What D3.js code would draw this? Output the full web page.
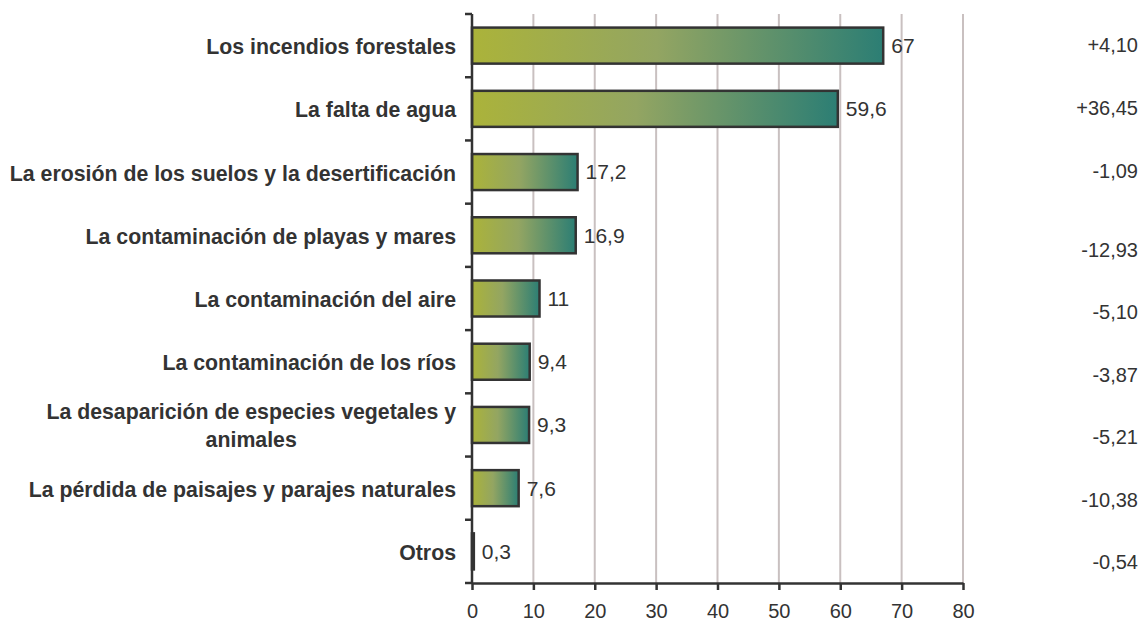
<!DOCTYPE html>
<html>
<head>
<meta charset="utf-8">
<script src="https://cdn.jsdelivr.net/npm/d3@7"></script>
<style>
  body { margin: 0; background: #fff; }
  svg { display: block; font-family: Arial, "Liberation Sans", sans-serif; }
</style>
</head>
<body>
<svg id="Chart" width="1142" height="623"></svg>
<script>
// categories (top to bottom), "\n" marks a wrapped label
var categories = [
  "Los incendios forestales",
  "La falta de agua",
  "La erosión de los suelos y la desertificación",
  "La contaminación de playas y mares",
  "La contaminación del aire",
  "La contaminación de los ríos",
  "La desaparición de especies vegetales y\nanimales",
  "La pérdida de paisajes y parajes naturales",
  "Otros"
];
var values = [67, 59.6, 17.2, 16.9, 11, 9.4, 9.3, 7.6, 0.3];
var valueLabels = ["67", "59,6", "17,2", "16,9", "11", "9,4", "9,3", "7,6", "0,3"];
var changeLabels = ["+4,10", "+36,45", "-1,09", "-12,93", "-5,10", "-3,87", "-5,21", "-10,38", "-0,54"];
var xTicks = [0, 10, 20, 30, 40, 50, 60, 70, 80];

var margin = { top: 14, left: 472, right: 179, bottom: 40 };
var svg, width, height, innerW, innerH;

document.addEventListener("DOMContentLoaded", () => {
  svg = d3.select("#Chart");
  width = +svg.attr("width");
  height = +svg.attr("height");
  innerW = width - margin.left - margin.right;
  innerH = height - margin.top - margin.bottom;
  drawChart();
});

function drawChart() {
  svg.selectAll("*").remove();

  var x = d3.scaleLinear().domain([0, 80]).range([margin.left, margin.left + innerW]);
  var y = d3.scaleBand()
    .domain(categories)
    .range([margin.top, margin.top + innerH])
    .paddingInner(0.43)
    .paddingOuter(0.215);
  var step = y.step();
  var gap = step * y.paddingInner() / 2;

  // gradient for bars
  var grad = svg.append("defs").append("linearGradient")
    .attr("id", "barGrad")
    .attr("x1", "0%").attr("x2", "100%")
    .attr("y1", "0%").attr("y2", "0%");
  grad.append("stop").attr("offset", "0%").attr("stop-color", "#abb33a");
  grad.append("stop").attr("offset", "45%").attr("stop-color", "#93a562");
  grad.append("stop").attr("offset", "100%").attr("stop-color", "#2c7e74");

  // vertical grid
  svg.append("g")
    .selectAll("line")
    .data(xTicks.slice(1))
    .enter()
    .append("line")
    .attr("x1", d => x(d)).attr("x2", d => x(d))
    .attr("y1", margin.top).attr("y2", margin.top + innerH)
    .attr("stroke", "#c9c0c0")
    .attr("stroke-width", 2);

  // bars
  svg.append("g")
    .selectAll("rect")
    .data(values)
    .enter()
    .append("rect")
    .attr("x", x(0))
    .attr("y", (d, i) => y(categories[i]))
    .attr("width", d => x(d) - x(0))
    .attr("height", y.bandwidth())
    .attr("fill", "url(#barGrad)")
    .attr("stroke", "#333")
    .attr("stroke-width", 2.5);

  // bottom axis
  var xAxis = d3.axisBottom(x).tickValues(xTicks).tickSize(7).tickSizeOuter(0).tickPadding(14);
  var gx = svg.append("g")
    .attr("transform", `translate(0,${margin.top + innerH})`)
    .call(xAxis);
  gx.select(".domain").attr("stroke", "#333").attr("stroke-width", 2.5);
  gx.selectAll(".tick line").attr("stroke", "#333").attr("stroke-width", 2.5);
  gx.selectAll(".tick text")
    .attr("fill", "#333")
    .style("font-size", "20px");

  // left axis with ticks at band boundaries
  var boundaries = categories.map(c => y(c) - gap);
  boundaries.push(y(categories[categories.length - 1]) + y.bandwidth() + gap);
  var gy = svg.append("g");
  gy.append("line")
    .attr("x1", x(0)).attr("x2", x(0))
    .attr("y1", margin.top).attr("y2", margin.top + innerH)
    .attr("stroke", "#333").attr("stroke-width", 2.5);
  gy.selectAll(".btick")
    .data(boundaries)
    .enter()
    .append("line")
    .attr("x1", x(0) - 7).attr("x2", x(0))
    .attr("y1", d => d).attr("y2", d => d)
    .attr("stroke", "#333").attr("stroke-width", 2.5);

  // category labels
  var labelRight = x(0) - 16;
  var lineH = 28;
  categories.forEach((c, i) => {
    var lines = c.split("\n");
    var cy = y(c) + y.bandwidth() / 2;
    var t = svg.append("text")
      .attr("fill", "#333")
      .style("font-size", "21.3px")
      .style("font-weight", "bold");
    var spans = lines.map((l, j) => t.append("tspan")
      .attr("x", labelRight)
      .attr("y", cy + (j - (lines.length - 1) / 2) * lineH + 1)
      .attr("dy", "0.35em")
      .attr("text-anchor", "end")
      .text(l));
    if (lines.length > 1) {
      var maxW = d3.max(spans, s => s.node().getComputedTextLength());
      spans.forEach(s => s.attr("x", labelRight - maxW / 2).attr("text-anchor", "middle"));
    }
  });

  // value labels
  svg.append("g")
    .selectAll("text")
    .data(values)
    .enter()
    .append("text")
    .attr("x", d => x(d) + 8)
    .attr("y", (d, i) => y(categories[i]) + y.bandwidth() / 2)
    .attr("dy", "0.35em")
    .attr("fill", "#333")
    .style("font-size", "21px")
    .text((d, i) => valueLabels[i]);

  // change column on the right (separate text box, lower group sits a bit lower)
  var lowerRows = d3.scalePoint()
    .domain(categories.slice(3))
    .range([250, 562]);
  svg.append("g")
    .selectAll("text")
    .data(changeLabels)
    .enter()
    .append("text")
    .attr("x", width - 4)
    .attr("y", (d, i) => i < 3 ? y(categories[i]) + y.bandwidth() / 2 - 1 : lowerRows(categories[i]))
    .attr("dy", "0.35em")
    .attr("text-anchor", "end")
    .attr("fill", "#333")
    .style("font-size", "20px")
    .text(d => d);
}
</script>
</body>
</html>
